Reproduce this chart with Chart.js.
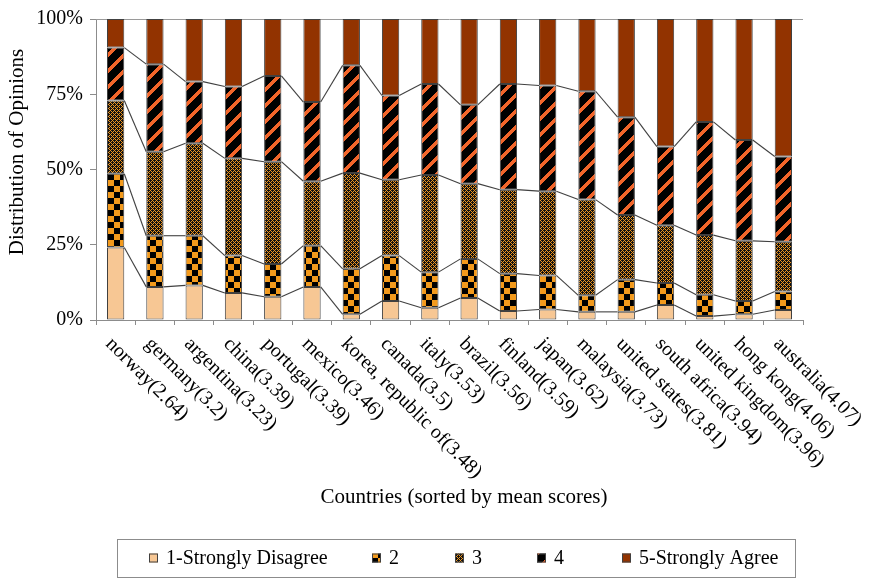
<!DOCTYPE html>
<html>
<head>
<meta charset="utf-8">
<script src="https://cdn.jsdelivr.net/npm/chart.js@4.4.1/dist/chart.umd.min.js"></script>
<style>
  html, body { margin: 0; padding: 0; background: #ffffff; }
  #wrap { width: 874px; height: 578px; position: relative; }
</style>
</head>
<body>
<div id="wrap"><canvas id="chart" width="874" height="578"></canvas></div>
<script>
// Countries, sorted by mean score (shown in the label)
const countries = [
  'norway(2.64)', 'germany(3.2)', 'argentina(3.23)', 'china(3.39)', 'portugal(3.39)',
  'mexico(3.46)', 'korea, republic of(3.48)', 'canada(3.5)', 'italy(3.53)', 'brazil(3.56)',
  'finland(3.59)', 'japan(3.62)', 'malaysia(3.73)', 'united states(3.81)',
  'south africa(3.94)', 'united kingdom(3.96)', 'hong kong(4.06)', 'australia(4.07)'
];

// Share of answers per opinion level (% of respondents)
const stronglyDisagree = [24.1, 11.0, 11.5, 9.0, 7.7, 11.0, 1.9, 6.3, 4.1, 7.3, 3.0, 3.5, 2.7, 2.7, 5.0, 1.3, 1.9, 3.3];
const level2           = [24.5, 17.0, 16.5, 12.4, 10.9, 13.7, 15.1, 15.1, 11.8, 13.0, 12.4, 11.3, 5.5, 10.7, 7.3, 7.1, 4.4, 6.2];
const level3           = [24.3, 27.9, 30.7, 32.3, 34.0, 21.4, 31.8, 25.2, 32.3, 25.0, 27.9, 28.0, 31.8, 21.5, 19.2, 19.8, 20.0, 16.5];
const level4           = [17.6, 29.1, 20.5, 23.9, 28.5, 26.3, 35.8, 28.0, 30.2, 26.2, 35.1, 35.1, 36.0, 32.5, 26.1, 37.6, 33.5, 28.3];
const stronglyAgree    = [9.5, 15.0, 20.8, 22.4, 18.9, 27.6, 15.4, 25.4, 21.6, 28.5, 21.6, 22.1, 24.0, 32.6, 42.4, 34.2, 40.2, 45.7];

const seriesNames = ['1-Strongly Disagree', '2', '3', '4', '5-Strongly Agree'];
const yTicks = [0, 25, 50, 75, 100];

const xTitle = 'Countries (sorted by mean scores)';
const yTitle = 'Distribution of Opinions';

const SERIF = '"Liberation Serif", "Times New Roman", serif';

// ---- fill patterns ----
function makeTile(size, painter) {
  const c = document.createElement('canvas');
  c.width = size; c.height = size;
  const g = c.getContext('2d');
  painter(g, size);
  return document.getElementById('chart').getContext('2d').createPattern(c, 'repeat');
}

// large checkerboard, orange / black
const patBigChecker = makeTile(12, (g) => {
  g.fillStyle = '#f39a1c'; g.fillRect(0, 0, 12, 12);
  g.fillStyle = '#000000'; g.fillRect(6, 0, 6, 6); g.fillRect(0, 6, 6, 6);
});

// fine lattice, orange on black
const patFine = makeTile(4, (g) => {
  g.fillStyle = '#111111'; g.fillRect(0, 0, 4, 4);
  g.fillStyle = '#f0961e';
  for (let x = 0; x < 4; x++) for (let y = 0; y < 4; y++) {
    if ((x + y) % 4 === 0 || (x - y + 4) % 4 === 0) g.fillRect(x, y, 1, 1);
  }
});

// wide upward diagonal stripes, black with orange-red
const patStripes = makeTile(16, (g, s) => {
  g.fillStyle = '#000000'; g.fillRect(0, 0, s, s);
  g.fillStyle = '#f2652a';
  for (let x = 0; x < s; x++) for (let y = 0; y < s; y++) {
    if ((x + y) % s < 5) g.fillRect(x, y, 1, 1);
  }
});

const fills = ['#f7c794', patBigChecker, patFine, patStripes, '#923300'];
const seriesData = [stronglyDisagree, level2, level3, level4, stronglyAgree];

// ---- plugins ----
// connector lines between the tops of matching segments of neighbouring bars,
// plus the frame line along the top of the plot area
const seriesLines = {
  id: 'seriesLines',
  beforeDatasetsDraw(chart) {
    const { ctx, chartArea } = chart;
    ctx.save();
    ctx.strokeStyle = '#9a9a9a';
    ctx.lineWidth = 1;
    ctx.beginPath();
    ctx.moveTo(chartArea.left, chartArea.top + 0.5);
    ctx.lineTo(chartArea.right, chartArea.top + 0.5);
    ctx.stroke();
    ctx.restore();
  },
  afterDatasetsDraw(chart) {
    const { ctx } = chart;
    ctx.save();
    ctx.strokeStyle = '#404040';
    ctx.lineWidth = 1.1;
    for (let d = 0; d < chart.data.datasets.length - 1; d++) {
      const meta = chart.getDatasetMeta(d);
      for (let i = 0; i < meta.data.length - 1; i++) {
        const a = meta.data[i], b = meta.data[i + 1];
        ctx.beginPath();
        ctx.moveTo(a.x + a.width / 2, a.y);
        ctx.lineTo(b.x - b.width / 2, b.y);
        ctx.stroke();
      }
    }
    ctx.restore();
  }
};

// rotated category labels, axis titles and the boxed legend
const annotations = {
  id: 'annotations',
  afterDraw(chart, args, opts) {
    const { ctx, chartArea, scales } = chart;
    const xs = scales.x;
    ctx.save();
    ctx.fillStyle = '#000000';

    // category labels, reading downward to the right
    ctx.font = opts.labelFont;
    ctx.textAlign = 'left';
    ctx.textBaseline = 'middle';
    chart.data.labels.forEach((lab, i) => {
      const x = xs.getPixelForValue(i);
      ctx.save();
      ctx.translate(x + opts.labelDx, chartArea.bottom + opts.labelDy);
      ctx.rotate(Math.PI / 4);
      ctx.fillText(lab, 0, 0);
      ctx.restore();
    });

    // axis titles
    ctx.font = opts.titleFont;
    ctx.textAlign = 'center';
    ctx.fillText(xTitle, opts.xTitlePos[0], opts.xTitlePos[1]);
    ctx.save();
    ctx.translate(opts.yTitlePos[0], opts.yTitlePos[1]);
    ctx.rotate(-Math.PI / 2);
    ctx.fillText(yTitle, 0, 0);
    ctx.restore();

    // legend box
    const lb = opts.legendBox;
    ctx.fillStyle = '#ffffff';
    ctx.fillRect(lb[0], lb[1], lb[2], lb[3]);
    ctx.strokeStyle = '#8c8c8c';
    ctx.lineWidth = 1;
    ctx.strokeRect(lb[0] + 0.5, lb[1] + 0.5, lb[2], lb[3]);

    ctx.font = opts.legendFont;
    ctx.textAlign = 'left';
    ctx.textBaseline = 'middle';
    const cy = opts.legendY;
    const sz = opts.legendSwatch;
    chart.data.datasets.forEach((ds, i) => {
      const sx = opts.legendX[i];
      ctx.fillStyle = ds.backgroundColor;
      ctx.fillRect(sx, cy - sz / 2, sz, sz);
      ctx.strokeStyle = '#404040';
      ctx.strokeRect(sx + 0.5, cy - sz / 2 + 0.5, sz - 1, sz - 1);
      ctx.fillStyle = '#000000';
      ctx.fillText(ds.label, sx + sz + opts.legendGap, cy + 1);
    });
    ctx.restore();
  }
};

new Chart(document.getElementById('chart'), {
  type: 'bar',
  data: {
    labels: countries,
    datasets: seriesNames.map((name, k) => ({
      label: name,
      data: seriesData[k],
      backgroundColor: fills[k],
      borderColor: '#404040',
      borderWidth: 1,
      borderSkipped: false,
      categoryPercentage: 1.0,
      barPercentage: 0.44
    }))
  },
  options: {
    responsive: false,
    animation: false,
    devicePixelRatio: 1,
    layout: { padding: { top: 16, right: 71, bottom: 0, left: 0 } },
    plugins: {
      legend: { display: false },
      tooltip: { enabled: false },
      annotations: {
        labelFont: '20px ' + SERIF,
        labelDx: -7,
        labelDy: 21,
        titleFont: '21px ' + SERIF,
        xTitlePos: [464, 497],
        yTitlePos: [17, 152],
        legendFont: '20px ' + SERIF,
        legendBox: [117, 539, 678, 38],
        legendX: [149, 372, 455, 537, 622],
        legendY: 558,
        legendSwatch: 9,
        legendGap: 8
      }
    },
    scales: {
      x: {
        stacked: true,
        grid: { offset: true, drawOnChartArea: false, drawTicks: true, tickLength: 5, color: '#8c8c8c' },
        border: { display: true, color: '#8c8c8c', width: 1 },
        ticks: { display: false },
        afterFit(scale) { scale.height = 258; }
      },
      y: {
        stacked: true,
        min: 0,
        max: 100,
        afterBuildTicks(scale) { scale.ticks = yTicks.map(v => ({ value: v })); },
        ticks: {
          callback: (v) => v + '%',
          font: { family: SERIF, size: 20 },
          color: '#000000',
          padding: 7
        },
        grid: { drawOnChartArea: false, drawTicks: true, tickLength: 6, color: '#8c8c8c' },
        border: { display: true, color: '#8c8c8c', width: 1 },
        afterFit(scale) { scale.width = 96; }
      }
    }
  },
  plugins: [seriesLines, annotations]
});
</script>
</body>
</html>
